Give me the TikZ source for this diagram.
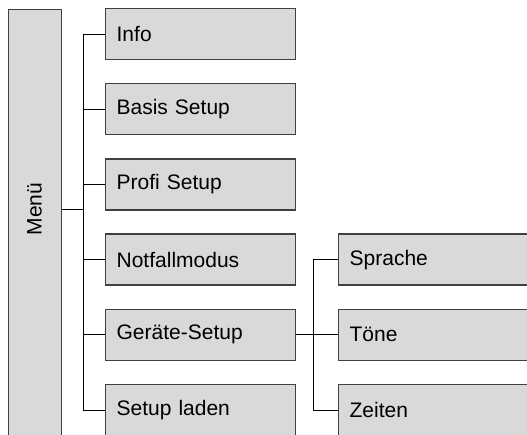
\documentclass[tikz,border=0pt]{standalone}
\usepackage{fontspec}
\setmainfont{Liberation Sans}
\usetikzlibrary{positioning}
\definecolor{boxgray}{HTML}{D9D9D9}
\definecolor{edgegray}{HTML}{404040}

\begin{document}
\begin{tikzpicture}[x=1pt,y=-1pt,
  item/.style={draw=edgegray,line width=1.3pt,fill=boxgray,minimum height=51pt,text width=168pt,inner xsep=11pt,align=left,anchor=west,font=\fontsize{21}{25}\selectfont},
  subitem/.style={item,text width=180pt},
  link/.style={line width=1pt}]
\useasboundingbox (0,0) rectangle (527,434);
\clip (0,0) rectangle (527,434);
% main menu column
\node[draw=edgegray,fill=boxgray,line width=1.3pt,minimum width=53pt,minimum height=450pt,anchor=north west] (menubox) at (8,9) {};
\node[rotate=90,font=\fontsize{21}{25}\selectfont] (menu) at (34.5,209) {Menü};
\coordinate (hub) at (83,209);
\node[item] (info) at (105,34) {Info};
\node[item] (basis) at (105,109.2) {Basis Setup};
\node[item] (profi) at (105,184.4) {Profi Setup};
\node[item] (notfall) at (105,259.6) {Notfallmodus};
\node[item] (geraete) at (105,334.8) {Geräte-Setup};
\node[item] (laden) at (105,410) {Setup laden};
% submenu of Geräte-Setup
\coordinate (hub2) at (313,334.8);
\node[subitem] (sprache) at (338,259.6) {Sprache};
\node[subitem] (toene) at (338,334.8) {Töne};
\node[subitem] (zeiten) at (338,410) {Zeiten};
\draw[link] (menubox.east |- hub) -- (hub);
\draw[link] (info.west -| hub) -- (laden.west -| hub);
\foreach \n in {info,basis,profi,notfall,geraete,laden}
  \draw[link] (\n.west -| hub) -- (\n.west);
\draw[link] (geraete.east) -- (toene.west);
\draw[link] (sprache.west -| hub2) -- (zeiten.west -| hub2);
\foreach \n in {sprache,zeiten}
  \draw[link] (\n.west -| hub2) -- (\n.west);
\end{tikzpicture}
\end{document}
